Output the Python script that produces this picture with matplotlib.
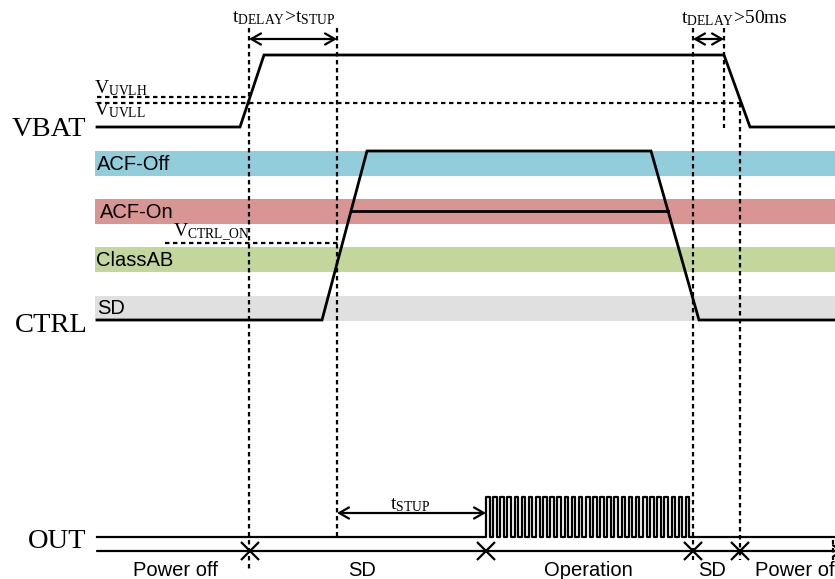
import numpy as np
import matplotlib
matplotlib.use("Agg")
import matplotlib.pyplot as plt

plt.rcParams['mathtext.fontset'] = 'custom'
plt.rcParams['mathtext.rm'] = 'Liberation Serif'
plt.rcParams['mathtext.it'] = 'Liberation Serif'

SERIF = 'Liberation Serif'
SANS = 'Liberation Sans'

# ---- data (diagram coordinates: x = time position, y = level, screen-like) ----
vbat_t = [97, 240, 264, 724, 750, 835]
vbat_v = [127, 127, 55, 55, 127, 127]

ctrl_t = [97, 322, 367, 651, 699, 835]
ctrl_v = [320, 320, 151, 151, 320, 320]

acf_on_t = [351, 668]
acf_on_v = 211

band_names = ['ACF-Off', 'ACF-On', 'ClassAB', 'SD']
band_top = [151, 199, 247, 296]
band_colors = ['#92CDDC', '#D99594', '#C3D69B', '#E0E0E0']
band_label_x = [97, 100, 96, 97]

uvlh_level = 97
uvlh_end = 248
uvll_level = 103
uvll_end = 740
vctrl_level = 243
vctrl_span = [165, 338]

out_t = [97, 835]
out_low = 537
out_high = 497
pulse_start = 486
pulse_end = 693
n_pulses = 29

timeline_y = 551
phase_marks = [250, 486, 693, 740]
phase_names = ['Power off', 'SD', 'Operation', 'SD', 'Power off']
phase_label_x = [175, 362, 588, 712, 797]

fig = plt.figure(figsize=(8.35, 5.79), dpi=100)
ax = fig.add_axes([0, 0, 1, 1])
ax.set_xlim(0, 835)
ax.set_ylim(579, 0)
ax.axis('off')

dot = (0, (2.0, 1.6))
lw = 1.6

# bands
for name, top, col, lx in zip(band_names, band_top, band_colors, band_label_x):
    ax.add_patch(plt.Rectangle((95, top), 760, 25, color=col, lw=0, zorder=1))
    ax.text(lx, top + 13, name, fontsize=14.5, family=SANS, va='center', ha='left', zorder=3)

# vertical dotted guides
ax.plot([249, 249], [28, 572], color='k', lw=lw, ls=dot, zorder=2)
ax.plot([337, 337], [28, 537], color='k', lw=lw, ls=dot, zorder=2)
ax.plot([693, 693], [28, 560], color='k', lw=lw, ls=dot, zorder=2)
ax.plot([724, 724], [28, 128], color='k', lw=lw, ls=dot, zorder=2)
ax.plot([740, 740], [103, 560], color='k', lw=lw, ls=dot, zorder=2)
ax.plot([833, 833], [540, 560], color='k', lw=lw, ls=dot, zorder=2)

# horizontal threshold lines
ax.plot([97, uvlh_end], [uvlh_level, uvlh_level], color='k', lw=lw, ls=dot, zorder=2)
ax.plot([97, uvll_end], [uvll_level, uvll_level], color='k', lw=lw, ls=dot, zorder=2)
ax.plot(vctrl_span, [vctrl_level, vctrl_level], color='k', lw=lw, ls=dot, zorder=2)

# waveforms
ax.plot(vbat_t, vbat_v, color='k', lw=2, zorder=4, solid_joinstyle='miter')
ax.plot(ctrl_t, ctrl_v, color='k', lw=2, zorder=4, solid_joinstyle='miter')
ax.plot(acf_on_t, [acf_on_v, acf_on_v], color='k', lw=2, zorder=4)

# OUT with PWM pulses
period = (pulse_end - pulse_start) / n_pulses
px = [out_t[0], pulse_start]
py = [out_low, out_low]
for i in range(n_pulses):
    a = pulse_start + i * period
    b = a + period * 0.5
    c = a + period
    px += [a, b, b, c]
    py += [out_high, out_high, out_low, out_low]
px.append(out_t[1])
py.append(out_low)
ax.plot(px, py, color='k', lw=1.6, zorder=4)

# arrows
arrow_kw = dict(arrowstyle='<->,head_length=0.7,head_width=0.4', color='k', lw=1.6, shrinkA=0, shrinkB=0)
ax.annotate('', xy=(249, 39), xytext=(337, 39), arrowprops=arrow_kw)
ax.annotate('', xy=(693, 39), xytext=(724, 39), arrowprops=arrow_kw)
ax.annotate('', xy=(337, 513), xytext=(486, 513), arrowprops=arrow_kw)
ax.annotate('', xy=(97, timeline_y), xytext=(845, timeline_y),
            arrowprops=dict(arrowstyle='<-,head_length=0.7,head_width=0.4', color='k', lw=1.6,
                            shrinkA=0, shrinkB=0))

ax.plot(phase_marks, [timeline_y] * len(phase_marks), ls='none', marker='x',
        ms=13, mew=1.6, color='k', zorder=5)

for name, x in zip(phase_names, phase_label_x):
    ax.text(x, 570, name, fontsize=14.5, family=SANS, ha='center', va='center')

# signal names
ax.text(86, 129, 'VBAT', fontsize=20.5, family=SERIF, ha='right', va='center')
ax.text(88, 326, 'CTRL', fontsize=20.5, family=SERIF, ha='right', va='center')
ax.text(86, 541, 'OUT', fontsize=20.5, family=SERIF, ha='right', va='center')

# annotations
ax.text(232, 18, r'$\mathrm{t_{DELAY}}$>$\mathrm{t_{STUP}}$', fontsize=14, family=SERIF,
        ha='left', va='center')
ax.text(681, 18, r'$\mathrm{t_{DELAY}}$>50ms', fontsize=14, family=SERIF, ha='left', va='center')
ax.text(94, 88, r'$\mathrm{V_{UVLH}}$', fontsize=14, ha='left', va='center')
ax.text(94, 110, r'$\mathrm{V_{UVLL}}$', fontsize=14, ha='left', va='center')
ax.text(173, 233, r'$\mathrm{V_{CTRL\_ON}}$', fontsize=14, ha='left', va='center')
ax.text(390, 505, r'$\mathrm{t_{STUP}}$', fontsize=14, ha='left', va='center')

fig.savefig('out.png', dpi=100)
